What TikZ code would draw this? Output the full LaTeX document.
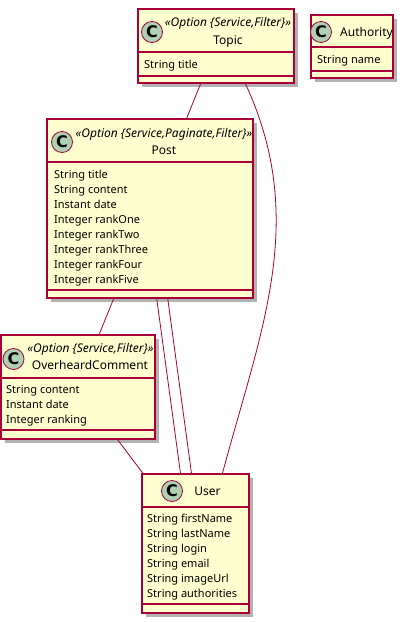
\documentclass[tikz,border=0pt]{standalone}
\usepackage{fontspec}
\setmainfont{Noto Sans}
\newfontfamily\spotfont{DejaVu Sans}
\usetikzlibrary{shadows}
\definecolor{umlfill}{HTML}{FEFECE}
\definecolor{umlred}{HTML}{A80036}
\definecolor{umlspot}{HTML}{ADD1B2}

\begin{document}
\begin{tikzpicture}[x=1pt,y=-1pt,
  box/.style={rectangle,draw=umlred,fill=umlfill,line width=1.2pt,inner sep=0pt,
    drop shadow={shadow xshift=4pt,shadow yshift=-4pt,opacity=0.3,fill=black}},
  spot/.style={circle,draw=umlred,fill=umlspot,line width=0.8pt,minimum size=21pt,inner sep=0pt,
    font=\spotfont\fontsize{16}{16}\selectfont\bfseries},
  cname/.style={inner sep=0pt,anchor=base,font=\fontsize{12}{12}\selectfont},
  stereo/.style={inner sep=0pt,anchor=base,font=\fontsize{12}{12}\selectfont\itshape},
  attr/.style={inner sep=0pt,anchor=base west,font=\fontsize{11}{11}\selectfont},
  link/.style={draw=umlred,line width=0.8pt}]
  \useasboundingbox (0,0) rectangle (404,622);

  % Cajas de las clases
  \node[box,minimum width=156pt,minimum height=74pt]  (topic)     at (216,46)    {};
  \node[box,minimum width=82pt,minimum height=63pt]   (authority) at (352,46.5)  {};
  \node[box,minimum width=206pt,minimum height=179pt] (post)      at (150,208.5) {};
  \node[box,minimum width=154pt,minimum height=104pt] (comment)   at (78,387)    {};
  \node[box,minimum width=107pt,minimum height=139pt] (user)      at (195.5,543.5) {};

  % Separadores de compartimentos
  \foreach \xa/\xb/\yy in {138/294/52, 138/294/76, 311/393/47, 311/393/71,
                           47/253/162, 47/253/290, 1/155/378, 1/155/430,
                           142/249/507, 142/249/604}
    \draw[umlred,line width=1.2pt] (\xa,\yy) -- (\xb,\yy);

  % Cabeceras
  \node[spot] (topicC) at (152,32) {C};
  \node[stereo] (topicS) at (228,26) {«Option \{Service,Filter\}»};
  \node[cname] (topicN) at (228,44) {Topic};

  \node[spot] (authorityC) at (321,32) {C};
  \node[cname,anchor=base west] (authorityN) at (340,36) {Authority};

  \node[spot] (postC) at (62,142) {C};
  \node[stereo] (postS) at (164,137) {«Option \{Service,Paginate,Filter\}»};
  \node[cname] (postN) at (164,154) {Post};

  \node[spot] (commentC) at (13.5,359) {C};
  \node[stereo] (commentS) at (90.5,352) {«Option \{Service,Filter\}»};
  \node[cname] (commentN) at (90,369) {OverheardComment};

  \node[spot] (userC) at (172,491) {C};
  \node[cname] (userN) at (207.5,495) {User};

  % Atributos
  \node[attr] (topicA) at (144,68) {String title};
  \node[attr] (authorityA) at (317,63) {String name};
  \foreach \t [count=\i] in {String title, String content, Instant date, Integer rankOne,
                             Integer rankTwo, Integer rankThree, Integer rankFour, Integer rankFive}
    \node[attr] (postA\i) at (54,163+15*\i) {\t};
  \foreach \t [count=\i] in {String content, Instant date, Integer ranking}
    \node[attr] (commentA\i) at (6,378+15*\i) {\t};
  \foreach \t [count=\i] in {String firstName, String lastName, String login, String email,
                             String imageUrl, String authorities}
    \node[attr] (userA\i) at (147,507+15*\i) {\t};

  % Relaciones
  \foreach \from/\to in {topic/post, post/comment, comment/user}
    \draw[link] (\from) -- (\to);
  \foreach \s in {-5.5,5.5}
    \draw[link,transform canvas={xshift=\s pt}] (post) -- (user);
  \draw[link] (topic.-52) .. controls +(63,136) and +(39,-145) .. (user.69);
\end{tikzpicture}
\end{document}
